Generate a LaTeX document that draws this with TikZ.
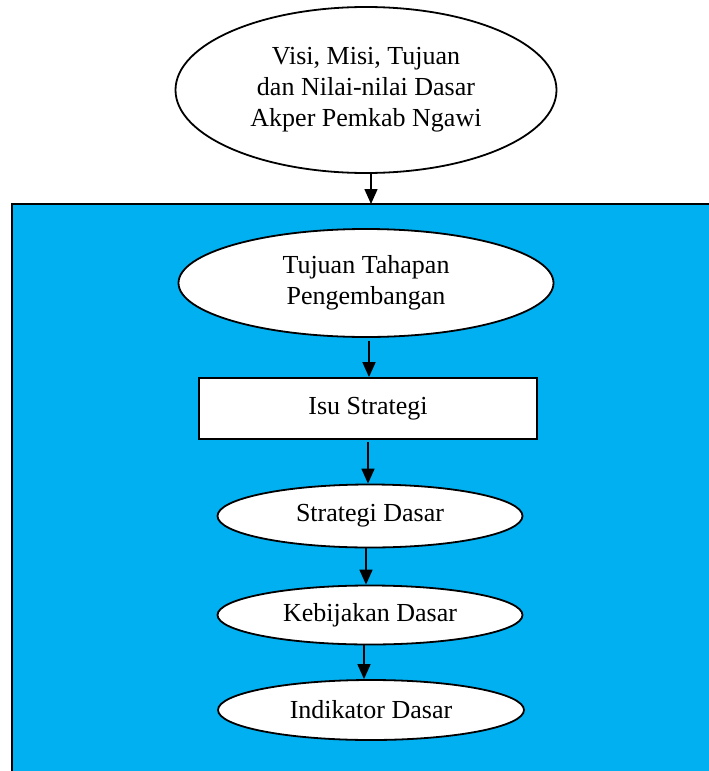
\documentclass[tikz,border=0pt]{standalone}
\usepackage{fontspec}
\setmainfont{Liberation Serif}
\usepackage{xcolor}
\usepackage{tikz}
\usetikzlibrary{arrows.meta,positioning,shapes.geometric}
\definecolor{panelblue}{RGB}{0,176,240}

\begin{document}
\begin{tikzpicture}[x=1pt, y=-1pt,
    oval/.style={ellipse, draw, fill=white, line width=1.8pt, inner sep=0pt, align=center, font=\fontsize{26}{31}\selectfont},
    stepbox/.style={rectangle, draw, fill=white, line width=1.8pt, inner sep=0pt, align=center, font=\fontsize{26}{31}\selectfont},
    flow/.style={-{Triangle[length=15pt,width=13pt]}, line width=1.6pt}]
    \useasboundingbox (0,0) rectangle (709,771);

    % Blue panel
    \draw[fill=panelblue, line width=1.8pt] (12,204) rectangle (716,778);
    \coordinate (paneltop) at (371,204);

    % Top: vision and mission
    \node[oval, minimum width=381pt, minimum height=166pt] (visi) at (366,90)
        {Visi, Misi, Tujuan\\dan Nilai-nilai Dasar\\Akper Pemkab Ngawi};

    % Steps inside the panel
    \node[oval, minimum width=375pt, minimum height=108pt] (tujuan) at (366,283)
        {Tujuan Tahapan\\Pengembangan};
    \node[stepbox, minimum width=338pt, minimum height=61pt] (isu) at (368,408.5)
        {Isu Strategi};
    \node[oval, minimum width=305pt, minimum height=63pt] (strategi) at (370,516)
        {Strategi Dasar};
    \node[oval, minimum width=305pt, minimum height=59pt] (kebijakan) at (370,615)
        {Kebijakan Dasar};
    \node[oval, minimum width=306pt, minimum height=60pt] (indikator) at (371,710)
        {Indikator Dasar};

    % Arrows
    \draw[flow] (visi.south -| paneltop) -- (paneltop);
    \draw[flow] (tujuan.south) ++(3,3) -- (isu.north -| 369,0);
    \draw[flow] (isu.south) ++(0,2) -- (strategi.north -| 368,0);
    \draw[flow] (strategi.south -| 366,0) -- (kebijakan.north -| 366,0);
    \draw[flow] (kebijakan.south -| 364,0) -- (indikator.north -| 364,0);
\end{tikzpicture}
\end{document}
